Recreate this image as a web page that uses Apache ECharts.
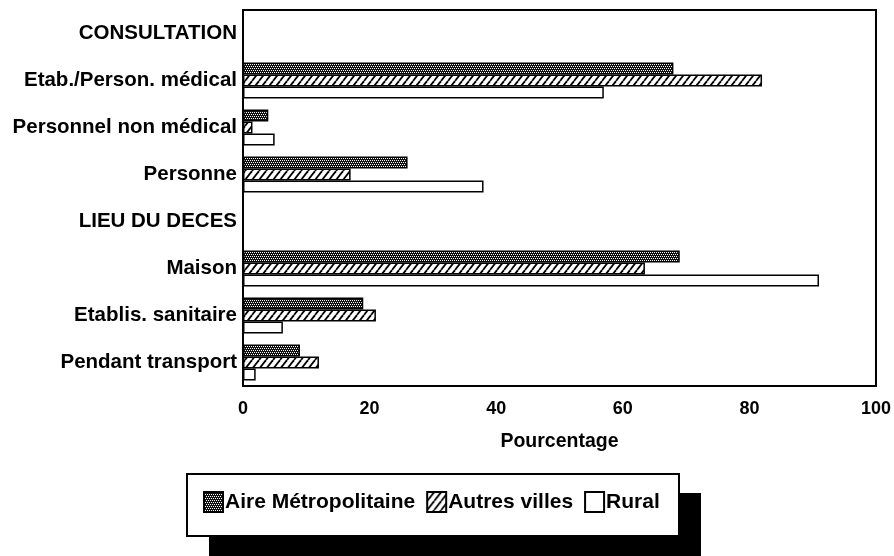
<!DOCTYPE html>
<html>
<head>
<meta charset="utf-8">
<script src="https://cdn.jsdelivr.net/npm/echarts@6/dist/echarts.min.js"></script>
<style>
  html, body { margin: 0; padding: 0; background: #fff; }
  #chart { width: 894px; height: 556px; }
</style>
</head>
<body>
<div id="chart"></div>
<script>
// Categories (section headers carry no bars)
const categories = [
  'CONSULTATION',
  'Etab./Person. médical',
  'Personnel non médical',
  'Personne',
  'LIEU DU DECES',
  'Maison',
  'Etablis. sanitaire',
  'Pendant transport'
];

// Percentages per residence area
const aireMetropolitaine = [null, 68, 4, 26, null, 69, 19, 9];
const autresVilles       = [null, 82, 1.5, 17, null, 63.5, 21, 12];
const rural              = [null, 57, 5, 38, null, 91, 6.3, 2];

const xTicks = { min: 0, max: 100, interval: 20 };

const FONT = '"Liberation Sans", Arial, sans-serif';

// Fill textures
function dotPattern() {
  const c = document.createElement('canvas');
  c.width = 4; c.height = 4;
  const g = c.getContext('2d');
  g.fillStyle = '#111';
  g.fillRect(0, 0, 4, 4);
  g.fillStyle = '#fff';
  g.fillRect(0, 0, 1, 1);
  g.fillRect(2, 0, 1, 1);
  g.fillRect(1, 2, 1, 1);
  g.fillRect(3, 2, 1, 1);
  return c;
}

function hatchPattern() {
  const w = 7, h = 9;
  const c = document.createElement('canvas');
  c.width = w; c.height = h;
  const g = c.getContext('2d');
  g.fillStyle = '#fff';
  g.fillRect(0, 0, w, h);
  g.strokeStyle = '#000';
  g.lineWidth = 1.8;
  for (let k = -1; k <= 1; k++) {
    g.beginPath();
    g.moveTo(k * w, h);
    g.lineTo(k * w + w, 0);
    g.stroke();
  }
  return c;
}

const chart = echarts.init(document.getElementById('chart'), null, { renderer: 'canvas' });

const barCommon = {
  type: 'bar',
  barWidth: 12,
  barGap: '0%',
  animation: false
};

chart.setOption({
  backgroundColor: '#fff',
  animation: false,
  grid: {
    left: 243, right: 18, top: 10, bottom: 170,
    show: true, borderColor: '#000', borderWidth: 2, backgroundColor: 'transparent'
  },
  // Legend frame with its drop shadow
  graphic: [
    { type: 'rect', z: 0, shape: { x: 209, y: 493, width: 492, height: 70 }, style: { fill: '#000' } },
    { type: 'rect', z: 1, shape: { x: 187, y: 474, width: 492, height: 62 }, style: { fill: '#fff', stroke: '#000', lineWidth: 2 } }
  ],
  xAxis: {
    type: 'value',
    min: xTicks.min, max: xTicks.max, interval: xTicks.interval,
    splitLine: { show: false },
    axisTick: { show: false },
    axisLine: { show: true, lineStyle: { color: '#000', width: 2 } },
    axisLabel: { color: '#000', fontFamily: FONT, fontWeight: 'bold', fontSize: 18, margin: 14 },
    name: 'Pourcentage',
    nameLocation: 'middle',
    nameGap: 46,
    nameTextStyle: { color: '#000', fontFamily: FONT, fontWeight: 'bold', fontSize: 19.5 }
  },
  yAxis: {
    type: 'category',
    inverse: true,
    data: categories,
    axisTick: { show: false },
    axisLine: { show: true, lineStyle: { color: '#000', width: 2 } },
    axisLabel: { color: '#000', fontFamily: FONT, fontWeight: 'bold', fontSize: 20.5, margin: 6 }
  },
  legend: {
    left: 187, top: 474,
    z: 5,
    orient: 'horizontal',
    itemWidth: 19, itemHeight: 20, itemGap: 11,
    padding: [17, 18, 24, 16],
    icon: 'rect',
    textStyle: { color: '#000', fontFamily: FONT, fontWeight: 'bold', fontSize: 21, padding: [0, 0, 0, -3] },
    data: ['Aire Métropolitaine', 'Autres villes', 'Rural']
  },
  series: [
    Object.assign({}, barCommon, {
      name: 'Aire Métropolitaine',
      data: aireMetropolitaine,
      itemStyle: { color: { image: dotPattern(), repeat: 'repeat' }, borderColor: '#000', borderWidth: 1.5 }
    }),
    Object.assign({}, barCommon, {
      name: 'Autres villes',
      data: autresVilles,
      itemStyle: { color: { image: hatchPattern(), repeat: 'repeat' }, borderColor: '#000', borderWidth: 1.5 }
    }),
    Object.assign({}, barCommon, {
      name: 'Rural',
      data: rural,
      itemStyle: { color: '#fff', borderColor: '#000', borderWidth: 1.5 }
    })
  ]
});
</script>
</body>
</html>
